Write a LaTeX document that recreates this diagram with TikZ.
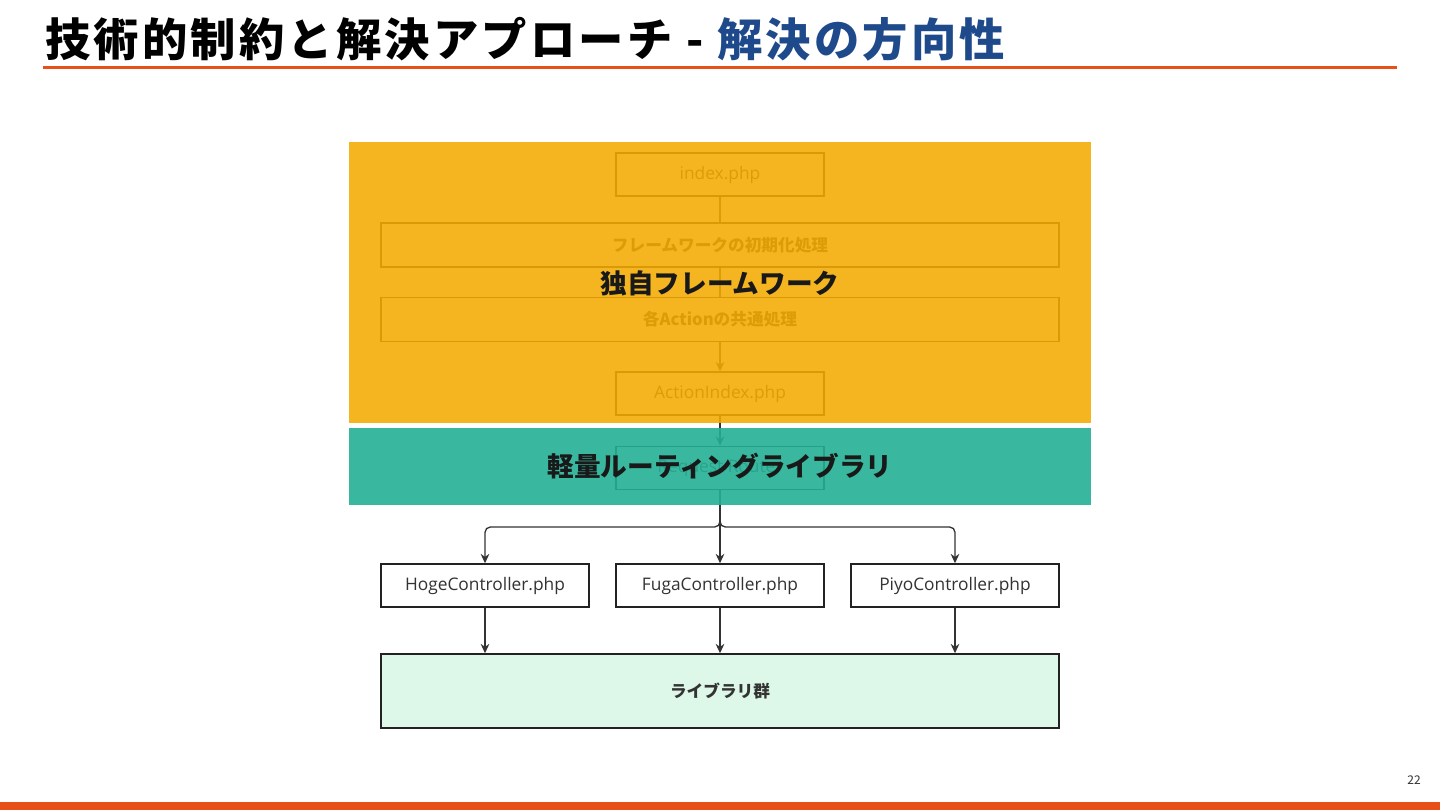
\documentclass[tikz,border=0pt]{standalone}
\usepackage{fontspec}
\setmainfont{Noto Sans CJK JP}
\newfontfamily\latinfont{Open Sans}
\usetikzlibrary{arrows.meta}
\definecolor{titleblue}{HTML}{1E4A8C}
\definecolor{accent}{HTML}{E8501A}
\definecolor{boxline}{HTML}{222222}
\definecolor{conn}{HTML}{333333}
\definecolor{libfill}{HTML}{DDF7E9}
\definecolor{ovorange}{RGB}{244,171,2}
\definecolor{ovteal}{RGB}{36,177,149}
\tikzset{
  px/.style={x=0.75pt,y=-0.75pt},
  filebox/.style={draw=boxline,line width=1.2pt,fill=white,minimum width=156pt,minimum height=32.25pt,inner sep=0pt,font=\latinfont\fontsize{13}{15}\selectfont,text=conn},
  widebox/.style={draw=boxline,line width=1.2pt,fill=white,minimum width=508.5pt,minimum height=33pt,inner sep=0pt,font=\bfseries\fontsize{12.5}{14}\selectfont,text=conn},
  libbox/.style={draw=boxline,line width=1.2pt,fill=libfill,minimum width=508.5pt,minimum height=55.5pt,inner sep=0pt,font=\bfseries\fontsize{12.5}{14}\selectfont,text=conn},
  conline/.style={draw=conn,line width=1pt},
  conarrow/.style={conline,-{Stealth[length=7pt,width=6.5pt]}},
  overlaylabel/.style={font=\bfseries\fontsize{20}{22}\selectfont,text=black!90},
}
\begin{document}
\begin{tikzpicture}[px]
\useasboundingbox (0,0) rectangle (1440,810);
\fill[white] (0,0) rectangle (1440,810);
% title
\node[anchor=base west,inner sep=0pt,font=\bfseries\fontsize{34}{40}\selectfont\addfontfeatures{LetterSpace=7}] (title) at (45,56) {技術的制約と解決アプローチ - \textcolor{titleblue}{解決の方向性}};
\fill[accent] (43,65.5) rectangle (1397,69);
\fill[accent] (0,802) rectangle (1440,810);
\node[font=\fontsize{9}{10}\selectfont,text=conn] (page) at (1414,780) {22};
% underlying diagram
\node[filebox] (index) at (720,174.5) {index.php};
\node[widebox] (init) at (720,245) {フレームワークの初期化処理};
\node[widebox] (common) at (720,319.5) {各Actionの共通処理};
\node[filebox] (action) at (720,393.5) {ActionIndex.php};
\node[filebox] (router) at (720,468) {Request Router};
\node[filebox] (hoge) at (485,585.5) {HogeController.php};
\node[filebox] (fuga) at (720,585.5) {FugaController.php};
\node[filebox] (piyo) at (955,585.5) {PiyoController.php};
\node[libbox] (lib) at (720,691) {ライブラリ群};
\draw[conline] (index.south) -- (init.north);
\draw[conline] (init.south) -- (common.north);
\draw[conarrow] (common.south) -- (action.north);
\draw[conarrow] (action.south) -- (router.north);
\coordinate (branch) at (720,527);
\draw[conarrow,rounded corners=4pt] (router.south) -- (branch) -| (hoge.north);
\draw[conarrow,rounded corners=4pt] (router.south) -- (branch) -| (piyo.north);
\draw[conarrow] (router.south) -- (fuga.north);
\draw[conarrow] (hoge.south) -- (hoge.south |- lib.north);
\draw[conarrow] (fuga.south) -- (lib.north);
\draw[conarrow] (piyo.south) -- (piyo.south |- lib.north);
% overlays
\fill[ovorange,opacity=0.88] (349,142) rectangle (1091,423);
\fill[ovteal,opacity=0.9] (349,428) rectangle (1091,505);
\node[overlaylabel] (fwlabel) at (720,283) {独自フレームワーク};
\node[overlaylabel] (rtlabel) at (720,466) {軽量ルーティングライブラリ};
\end{tikzpicture}
\end{document}
